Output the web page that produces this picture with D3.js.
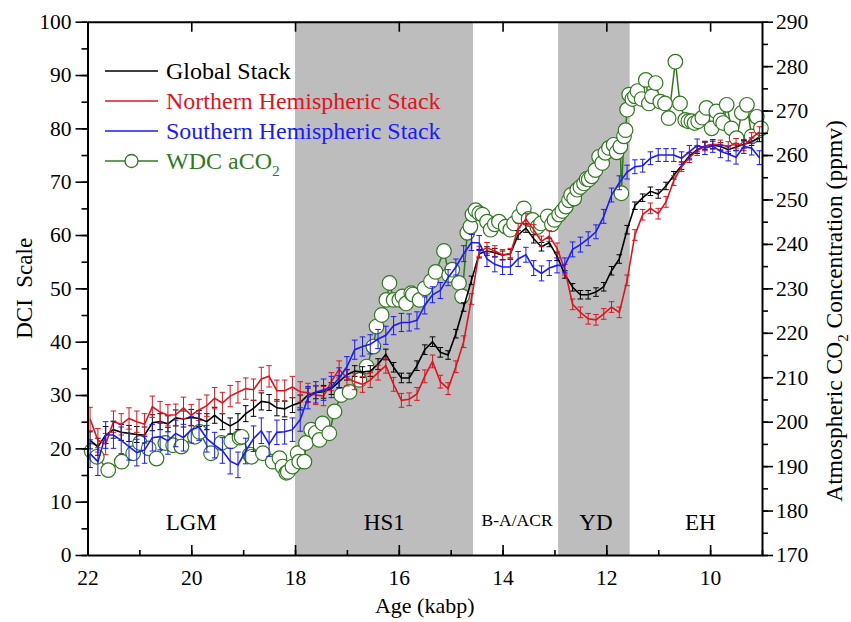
<!DOCTYPE html>
<html><head><meta charset="utf-8">
<script src="https://cdn.jsdelivr.net/npm/d3@7"></script>
<style>body{margin:0;background:#fff}svg{display:block}text{font-family:"Liberation Serif","Times New Roman",serif}</style>
</head><body><svg id="c" width="851" height="622"></svg>
<script>
// ---------- data ----------
const ages = [21.95,21.80,21.65,21.50,21.35,21.20,21.05,20.90,20.75,20.60,20.45,20.30,20.15,20.00,19.85,19.70,19.55,19.40,19.25,19.10,18.95,18.80,18.65,18.50,18.35,18.20,18.05,17.90,17.75,17.60,17.45,17.30,17.15,17.00,16.85,16.70,16.55,16.40,16.25,16.10,15.95,15.80,15.65,15.50,15.35,15.20,15.05,14.90,14.75,14.60,14.45,14.30,14.15,14.00,13.85,13.70,13.55,13.40,13.25,13.10,12.95,12.80,12.65,12.50,12.35,12.20,12.05,11.90,11.75,11.60,11.45,11.30,11.15,11.00,10.85,10.70,10.55,10.40,10.25,10.10,9.95,9.80,9.65,9.50,9.35,9.20,9.05];
const globalStack = [21.5,20.3,22.5,23.5,23.0,22.8,22.6,22.5,24.8,25.0,24.6,25.7,25.5,25.8,25.6,25.0,26.2,25.0,24.2,25.0,26.5,27.5,28.8,28.6,27.6,27.4,28.1,28.6,30.0,30.5,30.6,31.2,32.5,33.8,34.5,34.3,34.5,35.8,37.6,35.2,33.2,33.2,35.5,38.5,40.0,38.0,37.5,41.5,46.5,51.5,56.5,57.0,56.7,56.2,56.5,60.0,61.3,59.3,57.8,58.6,56.0,52.6,50.2,48.8,48.8,49.3,50.3,53.3,55.5,61.0,65.5,67.0,68.2,67.7,69.2,71.2,73.0,74.8,76.0,76.7,76.9,76.6,76.0,76.5,77.0,77.5,78.3];
const globalErr = [1.6,1.6,1.6,1.6,1.5,1.5,1.5,1.5,1.5,1.5,1.5,1.5,1.5,1.5,1.5,1.5,1.5,1.5,1.5,1.5,1.5,1.5,1.6,1.5,1.5,1.5,1.4,1.4,1.3,1.2,1.2,1.1,1.1,1.0,1.0,1.0,1.0,1.0,1.0,0.9,0.9,0.9,0.9,0.9,0.9,0.9,0.8,0.8,0.8,0.8,0.8,0.8,0.8,0.8,0.8,0.8,0.8,0.8,0.8,0.8,0.8,0.7,0.7,0.8,0.8,0.8,0.8,0.8,0.8,0.8,0.7,0.7,0.8,0.8,0.7,0.7,0.7,0.7,0.7,0.7,0.7,0.7,0.7,0.7,0.7,0.7,0.8];
const nhStack = [25.5,21.5,20.8,25.0,24.5,25.6,25.0,24.5,27.8,26.8,26.2,26.3,27.6,26.2,27.2,28.0,29.4,28.5,29.8,30.5,31.2,31.0,33.0,33.5,30.8,30.8,31.5,30.6,30.4,30.0,29.8,32.5,34.8,33.2,32.5,32.0,32.8,34.2,35.5,32.0,29.0,29.2,30.2,33.5,36.3,32.5,31.2,35.3,40.0,48.0,56.9,57.6,57.0,56.3,56.5,61.2,63.0,61.0,58.8,59.8,57.5,53.5,47.0,45.5,44.3,44.1,45.2,46.5,45.5,51.5,60.0,63.8,65.0,64.0,66.2,70.2,72.8,74.5,75.8,76.7,77.0,76.9,76.6,77.2,76.7,78.2,79.3];
const nhErr = [2.2,2.2,2.0,2.0,2.0,2.0,2.0,2.0,2.0,2.0,2.0,2.0,2.0,2.0,2.0,2.0,2.0,2.0,2.0,2.0,2.0,2.0,2.2,2.0,2.0,2.0,2.0,1.9,1.8,1.8,1.8,1.7,1.6,1.5,1.5,1.5,1.4,1.4,1.4,1.3,1.3,1.2,1.2,1.2,1.2,1.2,1.1,1.1,1.1,1.0,1.0,1.0,1.0,1.0,1.0,1.0,1.0,1.0,1.0,1.0,1.0,1.0,1.0,1.0,1.0,1.0,1.0,1.0,1.0,1.0,1.0,1.0,1.0,1.0,1.0,0.9,0.9,0.9,0.9,0.9,0.9,0.9,0.9,0.9,0.9,1.0,1.0];
const shStack = [19.0,17.5,22.5,22.5,21.5,20.3,19.2,19.7,22.0,22.2,21.4,22.8,22.0,23.5,24.0,21.8,20.6,19.6,17.6,16.9,19.5,21.8,23.3,20.8,23.0,23.1,23.5,25.4,29.5,30.5,31.0,31.5,33.2,35.3,38.5,39.1,39.5,40.5,41.2,43.0,43.6,43.6,44.0,46.8,48.8,49.6,52.0,54.0,56.5,58.6,58.5,55.5,54.5,54.0,54.0,55.5,56.3,53.8,52.8,53.8,54.3,54.3,57.3,58.2,59.3,60.6,63.5,67.5,69.8,71.8,72.8,73.0,74.4,75.0,75.0,75.0,74.4,75.6,76.8,76.3,76.7,75.7,75.2,74.6,76.6,76.3,74.5];
const shErr = [2.6,2.6,2.5,2.5,2.5,2.5,2.5,2.5,2.5,2.5,2.5,2.5,2.5,2.5,2.5,2.5,2.4,2.4,2.4,2.4,2.4,2.4,2.4,2.3,2.3,2.3,2.2,2.2,2.1,2.0,2.0,2.0,1.9,1.9,1.8,1.8,1.8,1.8,1.7,1.7,1.7,1.6,1.6,1.6,1.5,1.5,1.5,1.5,1.5,1.5,1.4,1.4,1.4,1.4,1.4,1.4,1.4,1.4,1.4,1.4,1.4,1.4,1.4,1.4,1.3,1.3,1.3,1.3,1.3,1.3,1.3,1.2,1.2,1.2,1.2,1.2,1.2,1.2,1.2,1.2,1.2,1.2,1.3,1.3,1.3,1.3,1.3];
// WDC aCO2 (age kabp, ppmv)
const co2Age = [21.92,21.82,21.6,21.34,21.12,20.99,20.82,20.67,20.5,20.35,20.19,19.93,19.84,19.62,19.42,19.23,19.07,19.03,18.87,18.84,18.62,18.43,18.3,18.24,18.17,18.14,18.05,17.95,17.92,17.82,17.79,17.69,17.6,17.53,17.47,17.34,17.24,17.11,16.95,16.76,16.62,16.49,16.43,16.33,16.24,16.18,16.1,15.99,15.93,15.86,15.76,15.73,15.6,15.5,15.38,15.29,15.13,15.03,14.97,14.84,14.78,14.68,14.62,14.58,14.52,14.45,14.39,14.3,14.23,14.15,14.07,13.94,13.85,13.78,13.68,13.59,13.5,13.42,13.33,13.26,13.13,13.05,13.0,12.91,12.85,12.78,12.72,12.68,12.62,12.56,12.5,12.43,12.38,12.34,12.28,12.21,12.14,12.08,12.02,11.95,11.86,11.8,11.73,11.71,11.66,11.63,11.6,11.56,11.5,11.45,11.4,11.32,11.24,11.18,11.12,11.05,10.96,10.87,10.8,10.67,10.58,10.48,10.42,10.36,10.3,10.23,10.15,10.07,9.97,9.88,9.8,9.75,9.68,9.59,9.49,9.39,9.29,9.2,9.1,9.02];
const co2Ppm = [193.4,192.1,189.1,191.0,192.9,195.2,194.0,191.7,195.2,194.7,194.4,196.6,197.7,192.9,195.2,195.6,196.4,196.6,192.6,192.1,192.9,191.0,191.8,189.9,188.5,188.7,189.9,192.9,191.0,191.0,195.2,198.2,197.5,195.9,199.6,197.4,202.3,206.0,206.7,209.4,212.4,216.9,221.4,224.0,227.4,231.2,227.4,227.4,228.2,226.6,228.9,228.6,227.4,230.0,231.6,233.7,238.4,233.0,234.2,231.2,228.2,242.5,243.9,246.6,247.6,246.9,246.6,245.0,243.2,244.4,245.0,243.9,243.2,244.6,246.2,248.0,245.6,245.4,243.8,244.6,246.2,244.4,245.4,246.6,247.4,248.4,249.8,251.0,250.2,252.2,252.8,253.6,254.6,254.5,255.2,256.6,259.6,258.2,260.5,261.6,262.3,260.6,261.9,251.4,264.2,265.6,270.2,273.6,272.6,273.2,274.4,272.6,276.9,271.6,273.2,276.2,272.0,271.6,268.3,281.0,271.6,267.9,267.6,267.6,267.2,267.6,268.4,270.6,266.0,269.8,267.8,267.2,271.3,266.0,263.8,269.5,271.3,264.2,268.6,266.0];
const xTicks = [22,20,18,16,14,12,10];
const yTicks = [0,10,20,30,40,50,60,70,80,90,100];
const y2Ticks = [170,180,190,200,210,220,230,240,250,260,270,280,290];
const periods = [{name:"HS1",from:18.0,to:14.57},{name:"YD",from:12.93,to:11.55}];
const periodLabels = [{name:"LGM",at:20.0,big:true},{name:"HS1",at:16.28,big:true},{name:"B-A/ACR",at:13.72,big:false},{name:"YD",at:12.2,big:true},{name:"EH",at:10.19,big:true}];
const seriesNames = ["Global Stack","Northern Hemispheric Stack","Southern Hemispheric Stack","WDC aCO"];
const colors = {global:"#000000",nh:"#e0141e",sh:"#1a1aff",co2:"#2f7a1f"};

// ---------- chart ----------
const svg = d3.select("#c");
const L=87.5,R=762,T=21.7,B=555;
const x = d3.scaleLinear().domain([22,9]).range([L,R]);
const y = d3.scaleLinear().domain([0,100]).range([B,T]);
const y2 = d3.scaleLinear().domain([170,290]).range([B,T]);
const font = '"Liberation Serif","Times New Roman",serif';

// shaded bands
svg.append("g").selectAll("rect").data(periods).join("rect")
  .attr("x",d=>x(d.from)).attr("width",d=>x(d.to)-x(d.from))
  .attr("y",T).attr("height",B-T).attr("fill","#bdbdbd");

// period labels
svg.append("g").selectAll("text").data(periodLabels).join("text")
  .attr("x",d=>x(d.at)).attr("y",d=>d.big?y(4.6):y(5.5))
  .attr("text-anchor","middle").attr("font-size",d=>d.big?23:17.5)
  .attr("fill","#000").text(d=>d.name);

// CO2 series
const gCO2 = svg.append("g");
const co2 = co2Age.map((a,i)=>({a,v:co2Ppm[i]}));
gCO2.append("path").datum(co2)
  .attr("d",d3.line().x(d=>x(d.a)).y(d=>y2(d.v)))
  .attr("fill","none").attr("stroke",colors.co2).attr("stroke-width",1.5);
gCO2.selectAll("circle").data(co2).join("circle")
  .attr("cx",d=>x(d.a)).attr("cy",d=>y2(d.v)).attr("r",7.3)
  .attr("fill","#fff").attr("stroke",colors.co2).attr("stroke-width",1.2);

function drawStack(vals, errs, color){
  const g = svg.append("g");
  const data = ages.map((a,i)=>({a,v:vals[i],e:errs[i]}));
  const eb = g.append("g").attr("stroke",color).attr("stroke-width",1).attr("fill","none");
  data.forEach(d=>{
    const x0=x(d.a), y1=y(d.v-d.e), y0=y(d.v+d.e);
    eb.append("line").attr("x1",x0).attr("x2",x0).attr("y1",y1).attr("y2",y0);
    eb.append("line").attr("x1",x0-2.8).attr("x2",x0+2.8).attr("y1",y1).attr("y2",y1);
    eb.append("line").attr("x1",x0-2.8).attr("x2",x0+2.8).attr("y1",y0).attr("y2",y0);
  });
  g.append("path").datum(data)
    .attr("d",d3.line().x(d=>x(d.a)).y(d=>y(d.v)))
    .attr("fill","none").attr("stroke",color).attr("stroke-width",1.6);
}
drawStack(globalStack, globalErr, colors.global);
drawStack(nhStack, nhErr, colors.nh);
drawStack(shStack, shErr, colors.sh);

// axes
function styleAxis(g){
  g.selectAll("path.domain").attr("stroke","#000").attr("stroke-width",2);
  g.selectAll(".tick line").attr("stroke","#000").attr("stroke-width",1.6);
  g.selectAll(".tick text").attr("font-family",font).attr("font-size",21.5).attr("fill","#000");
}
const minorX = d3.range(22,8.9,-1);
const minorY = d3.range(0,100.1,5);
const minorY2 = d3.range(170,290.1,5);
// bottom (inward ticks)
const gb = svg.append("g").attr("transform",`translate(0,${B})`);
gb.call(d3.axisBottom(x).tickValues(minorX).tickSize(-5).tickFormat("").tickSizeOuter(0));
gb.call(g=>g.selectAll("path.domain").remove());
const gb2 = svg.append("g").attr("transform",`translate(0,${B})`);
gb2.call(d3.axisBottom(x).tickValues(xTicks).tickSize(-10).tickPadding(15).tickSizeOuter(0).tickFormat(d3.format("d")));
styleAxis(gb); styleAxis(gb2);
// top (inward ticks, no labels)
const gt = svg.append("g").attr("transform",`translate(0,${T})`);
gt.call(d3.axisTop(x).tickValues(minorX).tickSize(-5).tickFormat("").tickSizeOuter(0));
gt.call(d3.axisTop(x).tickValues(xTicks).tickSize(-10).tickFormat("").tickSizeOuter(0));
styleAxis(gt);
// left
const gl = svg.append("g").attr("transform",`translate(${L},0)`);
gl.call(d3.axisLeft(y).tickValues(minorY).tickSize(6).tickFormat("").tickSizeOuter(0));
gl.call(g=>g.selectAll("path.domain").remove());
const gl2 = svg.append("g").attr("transform",`translate(${L},0)`);
gl2.call(d3.axisLeft(y).tickValues(yTicks).tickSize(12).tickPadding(4).tickSizeOuter(0));
styleAxis(gl); styleAxis(gl2);
// right
const gr = svg.append("g").attr("transform",`translate(${R},0)`);
gr.call(d3.axisRight(y2).tickValues(minorY2).tickSize(6).tickFormat("").tickSizeOuter(0));
gr.call(g=>g.selectAll("path.domain").remove());
const gr2 = svg.append("g").attr("transform",`translate(${R},0)`);
gr2.call(d3.axisRight(y2).tickValues(y2Ticks).tickSize(11).tickPadding(3).tickSizeOuter(0));
styleAxis(gr); styleAxis(gr2);

// axis titles
svg.append("text").attr("x",(L+R)/2).attr("y",613).attr("text-anchor","middle")
  .attr("font-size",22).text("Age (kabp)");
svg.append("text").attr("transform",`translate(32,${(T+B)/2}) rotate(-90)`)
  .attr("text-anchor","middle").attr("font-size",23).text("DCI\u00a0\u00a0Scale");
const rt = svg.append("text").attr("transform",`translate(842,311) rotate(-90)`)
  .attr("text-anchor","middle").attr("font-size",23.5);
rt.append("tspan").text("Atmospheric CO");
rt.append("tspan").attr("font-size",15).attr("dy",6).text("2");
rt.append("tspan").attr("dy",-6).text(" Concentration (ppmv)");

// legend
const legColors = [colors.global,colors.nh,colors.sh,colors.co2];
const lg = svg.append("g");
legColors.forEach((c,i)=>{
  const yy = 71 + i*30;
  lg.append("line").attr("x1",105).attr("x2",158).attr("y1",yy).attr("y2",yy).attr("stroke",c).attr("stroke-width",1.6);
  if(i===3) lg.append("circle").attr("cx",131.5).attr("cy",yy).attr("r",6.5).attr("fill","#fff").attr("stroke",c).attr("stroke-width",1.3);
  const t = lg.append("text").attr("x",166).attr("y",yy+7.5).attr("font-size",24).attr("fill",c);
  t.append("tspan").text(seriesNames[i]);
  if(i===3) t.append("tspan").attr("font-size",15.5).attr("dy",7).text("2");
});
</script></body></html>
